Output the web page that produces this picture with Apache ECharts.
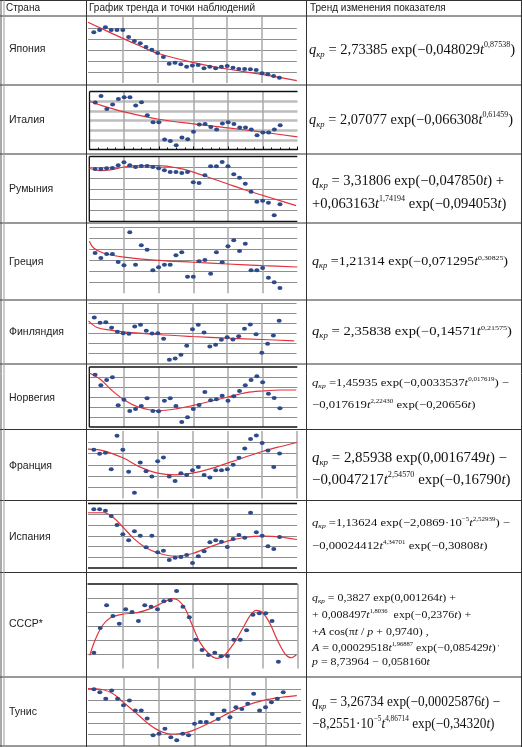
<!DOCTYPE html>
<html>
<head>
<meta charset="utf-8">
<script src="https://cdn.jsdelivr.net/npm/echarts@6/dist/echarts.min.js"></script>
<style>
html, body { margin: 0; padding: 0; background: #fff; }
#main { width: 522px; height: 747px; }
</style>
</head>
<body>
<div id="main"></div>
<script>
// номера наблюдений (годы)
var years33 = [1,2,3,4,5,6,7,8,9,10,11,12,13,14,15,16,17,18,19,20,21,22,23,24,25,26,27,28,29,30,31,32,33];
var years30 = [1,2,3,4,5,6,7,8,9,10,11,12,13,14,15,16,17,18,19,20,21,22,23,24,25,26,27,28,29,30];

// наблюдения (в делениях сетки)
var japanObs = [4.61,4.82,5.06,4.82,4.82,4.82,4.18,3.82,3.61,3.27,3.03,2.73,2.36,1.76,1.85,1.70,1.48,1.58,1.64,1.33,1.48,1.33,1.48,1.55,1.39,1.27,1.27,1.24,1.18,0.88,0.79,0.64,0.48];
var italyObs = [4.85,5.54,4.20,4.65,5.23,5.40,5.40,4.54,4.89,3.55,2.82,2.82,1.04,0.87,0.45,1.24,1.07,1.83,2.58,2.65,2.34,2.07,2.69,2.82,2.65,2.28,2.28,2.07,1.48,1.76,1.76,2.07,2.52];
var romaniaObs = [4.84,4.84,4.91,4.94,5.19,5.46,5.19,5.03,5.12,5.12,5.03,4.91,4.72,4.56,4.56,4.47,4.56,3.61,3.55,4.26,5.09,5.09,5.49,5.09,4.35,4.04,3.48,2.74,1.81,1.91,1.72,0.56,1.57];
var greeceObs = [3.65,3.19,3.56,3.56,2.83,2.53,5.52,2.59,4.34,3.95,2.08,2.35,2.59,2.59,3.44,3.71,1.50,1.50,2.90,3.01,1.77,3.71,2.81,4.25,4.80,3.83,4.49,2.08,2.08,2.29,1.41,1.00,0.48];
var finlandObs = [4.6,4.07,4.13,3.57,3.17,3.03,2.97,3.70,3.87,3.27,3.0,3.03,2.47,0.37,0.5,0.87,1.77,3.43,3.87,3.1,1.7,1.87,2.37,2.63,2.4,2.73,3.47,3.9,2.93,1.07,1.97,2.8,4.27];
var norwayObs = [5.23,4.17,4.7,4.97,2.17,2.73,1.6,1.8,2.1,2.87,1.6,1.57,2.63,2.87,2.1,0.5,0.97,1.8,2.2,3.5,2.67,2.77,3.13,2.63,3.07,3.6,4.17,4.7,5.07,4.47,3.33,2.9,1.87];
var franceObs = [4.33,3.97,4.06,2.61,5.58,4.33,2.37,0.52,3.2,2.43,1.95,3.32,3.64,1.95,1.56,2.25,2.10,2.52,2.81,2.10,1.86,2.52,2.52,2.61,2.99,3.62,4.45,5.29,5.61,4.93,4.27,2.79,4.0];
var spainObs = [5.46,5.46,5.33,4.84,4.0,3.13,2.57,3.41,3.01,1.92,3.01,1.46,1.61,0.74,0.96,1.02,1.21,0.47,1.09,1.55,2.39,2.57,2.45,1.95,2.70,3.07,2.82,5.14,3.32,3.01,2.02,1.77,2.88];
var ussrObs = [1.13,2.88,4.49,3.73,3.18,4.21,4.01,3.38,4.49,4.39,4.21,4.77,4.84,5.50,4.39,3.64,2.05,1.32,0.96,1.13,0.87,0.89,2.05,2.05,2.72,3.82,3.92,3.92,3.38,0.49];
var tunisObs = [5.01,4.75,4.16,4.9,4.16,3.6,4.01,3.13,3.13,2.42,0.94,1.09,1.53,0.77,0.5,1.09,0.94,1.97,2.12,2.12,2.83,2.39,3.13,2.54,3.42,3.27,3.72,4.6,3.13,3.42,3.87,4.16,4.75];

var japanTrend = [[0,5.52],[6,4.06],[9,3.36],[12,2.70],[18,1.88],[24,1.27],[30,0.79],[36,0.21]];
var italyTrend = [[0,4.99],[2,4.57],[6,3.89],[12,3.13],[18,2.65],[24,2.24],[30,1.79],[36,1.31]];
var romaniaTrend = [[0,4.91],[1.9,4.69],[3.9,4.78],[6,5.03],[8.9,5.15],[12,5.15],[15.2,4.94],[18,4.56],[21,4.01],[24,3.45],[27,2.90],[30,2.40],[33,1.91],[35.8,1.45]];
var greeceTrend = [[0,4.71],[0.75,4.10],[2.4,3.65],[6,3.28],[12,2.98],[18,2.81],[24,2.65],[30,2.50],[36,2.38]];
var finlandTrend = [[0,4.27],[1.5,3.6],[3.8,3.33],[6,3.17],[12,2.9],[18,2.7],[24,2.53],[30,2.4],[35.6,2.27]];
var norwayTrend = [[0,5.4],[1.9,4.77],[3.9,3.67],[6,2.73],[8.5,2.0],[12,1.63],[15.2,1.83],[18,2.17],[21.2,2.6],[24,3.0],[27.2,3.43],[30,3.6],[33,3.7],[35.8,3.7]];
var franceTrend = [[0,4.39],[2.7,4.24],[6,3.62],[9,2.79],[12,2.25],[15,2.10],[18,2.25],[21,2.63],[24,3.14],[27,3.67],[30,4.18],[33,4.6],[36,4.98]];
var spainTrend = [[0,5.14],[2.7,5.14],[4.4,4.68],[6,3.81],[7.9,2.73],[9.9,1.90],[12,1.41],[15,1.10],[18,1.35],[21,1.97],[24,2.50],[27,2.84],[30,2.96],[33,2.90],[36,2.65]];
var ussrTrend = [[0.35,0.94],[1.2,2.03],[2.3,3.02],[3.6,3.61],[5.4,3.85],[7.8,3.97],[9.9,4.25],[12,4.72],[13.3,4.96],[14.3,4.84],[15.4,4.21],[16.4,3.14],[17.7,1.84],[19.1,1.04],[20.4,0.73],[21.4,0.89],[23,1.79],[24.6,3.02],[25.6,3.80],[26.5,4.13],[27.4,4.01],[28.6,3.26],[29.9,1.96],[31.1,1.01],[32,0.77],[32.8,0.96]];
var tunisTrend = [[0,5.07],[2.6,4.96],[4.3,4.58],[6,3.85],[8,2.97],[9.9,2.09],[12,1.36],[14.1,1.06],[16.1,1.12],[18,1.42],[21,2.15],[24,2.97],[27,3.62],[30,4.07],[32.7,4.3],[35.3,4.45]];

var headers = ['Страна', 'График тренда и точки наблюдений', 'Тренд изменения показателя'];

// формулы (строки в rich-разметке)
var formulaLines = [
  ['{q|q}{s|кр}{n| = 2,73385 exp(−0,048029}{i|t}{p|0,87538}{n|)}'],
  ['{q|q}{s|кр}{n| = 2,07077 exp(−0,066308}{i|t}{p|0,61459}{n|)}'],
  ['{q|q}{s|кр}{n| = 3,31806 exp(−0,047850}{i|t}{n|) +}',
   '{n|+0,063163}{i|t}{p|1,74194}{n| exp(−0,094053}{i|t}{n|)}'],
  ['{q|q}{s|кр}{n| =1,21314 exp(−0,071295}{i|t}{p|0,30825}{n|)}'],
  ['{q|q}{s|кр}{n| = 2,35838 exp(−0,14571}{i|t}{p|0,21575}{n|)}'],
  ['{q|q}{s|кр}{n| =1,45935 exp(−0,0033537}{i|t}{p|0,017619}{n|) −}',
   '{n|−0,017619}{i|t}{p|2,22430}{n| exp(−0,20656}{i|t}{n|)}'],
  ['{q|q}{s|кр}{n| = 2,85938 exp(0,0016749}{i|t}{n|) −}',
   '{n|−0,0047217}{i|t}{p|2,54570}{n| exp(−0,16790}{i|t}{n|)}'],
  ['{q|q}{s|кр}{n| =1,13624 exp(−2,0869·10}{p|−5}{i|t}{p|2,52939}{n|) −}',
   '{n|−0,00024412}{i|t}{p|4,34701}{n| exp(−0,30808}{i|t}{n|)}'],
  ['{q|q}{s|кр}{n| = 0,3827 exp(0,001264}{i|t}{n|) +}',
   '{n|+ 0,008497}{i|t}{p|1,8036}{n|  exp(−0,2376}{i|t}{n|) +}',
   '{n|+}{i|A}{n| cos(π}{i|t}{n| / }{i|p}{n| + 0,9740) ,}',
   '{i|A}{n| = 0,00029518}{i|t}{p|1,96887}{n| exp(−0,085429}{i|t}{n|)}{p| ,}',
   '{i|p}{n| = 8,73964 − 0,058160}{i|t}'],
  ['{q|q}{s|кр}{n| = 3,26734 exp(−0,00025876}{i|t}{n|) −}',
   '{n|−8,2551·10}{p|−5}{i|t}{p|4,86714}{n| exp(−0,34320}{i|t}{n|)}']
];

// раскладка строк таблицы
var rows = [
  { name: 'Япония', obs: japanObs, t: years33, trend: japanTrend, rect: [88, 17, 208.8, 66], xMax: 36, xStep: 6, frame: [], hMax: false, vMax: false, labelY: 49, fx: 309, fy: [50], fr: 515, F: 14.5 },
  { name: 'Италия', obs: italyObs, t: years33, trend: italyTrend, rect: [89.5, 91.5, 208, 58], xMax: 36, xStep: 6, frame: ['top', 'left'], axisBottom: true, hMax: false, vMax: false, hWide: true, labelY: 120, fx: 309, fy: [120], fr: 513, F: 14.5 },
  { name: 'Румыния', obs: romaniaObs, t: years33, trend: romaniaTrend, rect: [89.3, 156.5, 208, 64.8], xMax: 36, xStep: 6, frame: ['top', 'left', 'bottom'], hMax: false, vMax: false, labelY: 189, fx: 312, fy: [181, 204], fr: 504, F: 14.5 },
  { name: 'Греция', obs: greeceObs, t: years33, trend: greeceTrend, rect: [89.3, 227, 208, 66.3], xMax: 36, xStep: 6, frame: [], hMax: true, vMax: false, labelY: 262, fx: 312, fy: [262], fr: 508, F: 12 },
  { name: 'Финляндия', obs: finlandObs, t: years33, trend: finlandTrend, rect: [88.5, 303.5, 208, 60], xMax: 36, xStep: 6, frame: [], hMax: true, vMax: false, labelY: 332, fx: 312, fy: [332], fr: 512, F: 12 },
  { name: 'Норвегия', obs: norwayObs, t: years33, trend: norwayTrend, rect: [89.3, 367, 208, 60], xMax: 36, xStep: 6, frame: ['top', 'left', 'bottom'], hMax: false, vMax: false, labelY: 398, fx: 312, fy: [383, 405], fr: 509, F: 11 },
  { name: 'Франция', obs: franceObs, t: years33, trend: franceTrend, rect: [88, 431, 209, 67.5], xMax: 36, xStep: 6, frame: [], hMax: false, vMax: true, labelY: 466, fx: 312, fy: [458, 480], fr: 507, F: 14.5 },
  { name: 'Испания', obs: spainObs, t: years33, trend: spainTrend, rect: [88, 503.5, 209, 64.5], xMax: 36, xStep: 6, frame: ['top', 'bottom'], hMax: false, vMax: false, labelY: 537, fx: 312, fy: [523, 546], fr: 510, F: 11 },
  { name: 'СССР*', obs: ussrObs, t: years30, trend: ussrTrend, rect: [87.5, 584, 210, 84.6], xMax: 33, xStep: 5.5, frame: ['top'], hMax: false, vMax: true, labelY: 624, fx: 312, fy: [598, 615, 632, 648, 662], fr: 456, F: 10 },
  { name: 'Тунис', obs: tunisObs, t: years33, trend: tunisTrend, rect: [88, 678, 213, 68], xMax: 36, xStep: 6, frame: [], hMax: false, vMax: false, labelY: 712, fx: 312, fy: [702, 724], fr: 500, F: 14.5 }
];

var SERIF = '"Liberation Serif", "Times New Roman", serif';
var SANS = '"Liberation Sans", Arial, sans-serif';
var rowLines = [0.5, 16, 85, 154, 223, 300, 364, 429.5, 500.5, 572.5, 677, 746];
var colLines = [86.5, 306.5, 521.5];

var measureCtx = document.createElement('canvas').getContext('2d');
function richStyles(F) {
  var lh = F * 1.25;
  return {
    q: { fontFamily: SERIF, fontStyle: 'italic', fontSize: F, lineHeight: lh, fill: '#111' },
    s: { fontFamily: SERIF, fontStyle: 'italic', fontSize: F * 0.6, lineHeight: F * 0.5, verticalAlign: 'bottom', fill: '#111' },
    n: { fontFamily: SERIF, fontSize: F, lineHeight: lh, fill: '#111' },
    i: { fontFamily: SERIF, fontStyle: 'italic', fontSize: F, lineHeight: lh, fill: '#111' },
    p: { fontFamily: SERIF, fontSize: F * 0.55, lineHeight: F * 0.5, verticalAlign: 'top', fill: '#111' }
  };
}
function richWidth(str, st) {
  var w = 0;
  str.replace(/\{(\w+)\|([^}]*)\}/g, function (m, k, txt) {
    var s = st[k];
    measureCtx.font = (s.fontStyle || 'normal') + ' ' + s.fontSize + 'px ' + s.fontFamily;
    w += measureCtx.measureText(txt).width;
    return m;
  });
  return w;
}

var grid = [], xAxis = [], yAxis = [], series = [], graphic = [];

rows.forEach(function (c, k) {
  var L = c.rect[0], T = c.rect[1], Wd = c.rect[2], Ht = c.rect[3];
  grid.push({ left: L, top: T, width: Wd, height: Ht });
  xAxis.push({
    gridIndex: k, type: 'value', min: 0, max: c.xMax, interval: c.xStep,
    axisLabel: { show: false },
    axisLine: { show: !!c.axisBottom, onZero: false, lineStyle: { color: '#111', width: 1.3 } },
    axisTick: { show: !!c.axisBottom, inside: true, length: 3, lineStyle: { color: '#111' } },
    minorTick: { show: !!c.axisBottom, splitNumber: 4, length: 2, lineStyle: { color: '#111' } },
    splitLine: { show: true, showMinLine: false, showMaxLine: c.vMax, lineStyle: { color: '#a8a8a8', width: 1.5 } }
  });
  yAxis.push({
    gridIndex: k, type: 'value', min: 0, max: 6, interval: 1,
    axisLabel: { show: false }, axisLine: { show: false }, axisTick: { show: false },
    splitLine: { show: true, showMinLine: false, showMaxLine: c.hMax,
      lineStyle: c.hWide ? { color: '#bdbdbd', width: 2.5 } : { color: '#8e8e8e', width: 1 } }
  });
  series.push({
    type: 'scatter', xAxisIndex: k, yAxisIndex: k, silent: true, z: 3,
    data: c.t.map(function (t, i) { return [t, c.obs[i]]; }),
    symbol: 'circle', symbolSize: [5, 4], itemStyle: { color: '#2d4a8a', opacity: 1 }
  });
  series.push({
    type: 'line', xAxisIndex: k, yAxisIndex: k, silent: true, z: 2,
    data: c.trend, smooth: 0.35, symbol: 'none',
    lineStyle: { color: '#e0343c', width: 1.2 }
  });

  // рамки графиков
  var sides = { top: [L, T, L + Wd, T], left: [L, T, L, T + Ht], bottom: [L, T + Ht, L + Wd, T + Ht] };
  c.frame.forEach(function (sd) {
    var p = sides[sd];
    graphic.push({ type: 'line', z: 1, silent: true, shape: { x1: p[0], y1: p[1], x2: p[2], y2: p[3] }, style: { stroke: '#111', lineWidth: 1.3 } });
  });

  // название страны
  graphic.push({ type: 'text', z: 10, silent: true, x: 9, y: c.labelY,
    style: { text: c.name, font: '10.5px ' + SANS, fill: '#222', align: 'left', verticalAlign: 'middle' } });

  // формула
  var st = richStyles(c.F);
  var sx = (c.fr - c.fx) / richWidth(formulaLines[k][0], st);
  formulaLines[k].forEach(function (line, j) {
    graphic.push({ type: 'text', z: 10, silent: true, x: c.fx, y: c.fy[j], scaleX: sx,
      style: { text: line, rich: st, x: 0, y: 0, font: c.F + 'px ' + SERIF, fill: '#111', align: 'left', verticalAlign: 'middle' } });
  });
});

// заголовок таблицы
[6, 89, 310].forEach(function (x, i) {
  graphic.push({ type: 'text', z: 10, silent: true, x: x, y: 8.5,
    style: { text: headers[i], font: '10px ' + SANS, fill: '#222', align: 'left', verticalAlign: 'middle' } });
});

// линии таблицы
rowLines.forEach(function (y) {
  graphic.push({ type: 'line', z: 1, silent: true, shape: { x1: 0, y1: y, x2: 522, y2: y }, style: { stroke: '#333', lineWidth: 1 } });
});
colLines.forEach(function (x) {
  graphic.push({ type: 'line', z: 1, silent: true, shape: { x1: x, y1: 0, x2: x, y2: 747 }, style: { stroke: '#333', lineWidth: 1 } });
});
graphic.push({ type: 'line', z: 1, silent: true, shape: { x1: 1, y1: 0, x2: 1, y2: 747 }, style: { stroke: '#555', lineWidth: 1 } });
graphic.push({ type: 'line', z: 1, silent: true, shape: { x1: 4, y1: 0, x2: 4, y2: 747 }, style: { stroke: '#999', lineWidth: 1 } });

var myChart = echarts.init(document.getElementById('main'));
myChart.setOption({
  animation: false,
  backgroundColor: '#fff',
  grid: grid,
  xAxis: xAxis,
  yAxis: yAxis,
  series: series,
  graphic: graphic
});
</script>
</body>
</html>
